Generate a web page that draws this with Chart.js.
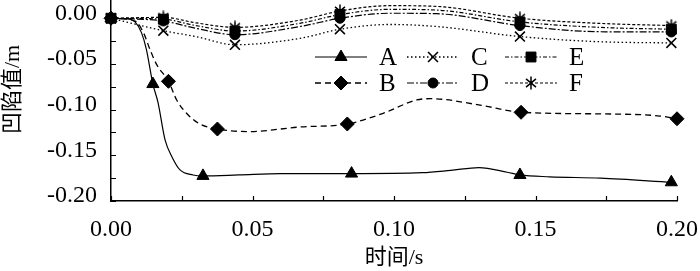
<!DOCTYPE html>
<html>
<head>
<meta charset="utf-8">
<script src="https://cdn.jsdelivr.net/npm/chart.js@4.4.0/dist/chart.umd.min.js"></script>
<style>
html, body { margin: 0; padding: 0; background: #fff; }
</style>
</head>
<body>
<canvas id="dentChart" width="700" height="271"></canvas>
<script>
// values (time in s, dent in m)
const timeA = [0, 0.006, 0.0085, 0.0108, 0.0125, 0.0148, 0.0166, 0.0191, 0.0216, 0.0244, 0.029, 0.0325, 0.045, 0.06, 0.085, 0.11, 0.12, 0.13, 0.14, 0.1445, 0.155, 0.173, 0.198];
const valueA = [0, -0.0005, -0.004, -0.016, -0.034, -0.072, -0.092, -0.133, -0.152, -0.166, -0.1715, -0.1725, -0.1715, -0.170, -0.170, -0.169, -0.1665, -0.1635, -0.1685, -0.1715, -0.1735, -0.175, -0.1795];
const markA = [0, 0.0148, 0.0325, 0.085, 0.1445, 0.198];

const timeB = [0, 0.0085, 0.0115, 0.014, 0.0162, 0.0203, 0.0232, 0.0267, 0.0314, 0.0376, 0.0485, 0.0668, 0.0835, 0.0962, 0.108, 0.113, 0.1304, 0.1449, 0.1774, 0.194, 0.2];
const valueB = [0, -0.003, -0.016, -0.036, -0.051, -0.069, -0.0894, -0.104, -0.1157, -0.1212, -0.124, -0.119, -0.1157, -0.104, -0.0894, -0.088, -0.095, -0.1029, -0.1048, -0.107, -0.110];
const markB = [0, 0.0203, 0.0376, 0.0835, 0.1449, 0.2];

const timeCF = [0, 0.0185, 0.03, 0.0438, 0.0668, 0.0809, 0.0986, 0.115, 0.1445, 0.172, 0.198];
const valueC = [0, -0.0136, -0.020, -0.029, -0.022, -0.012, -0.0068, -0.009, -0.020, -0.0256, -0.027];
const valueD = [0, -0.003, -0.011, -0.018, -0.009, 0.000, 0.0055, 0.005, -0.008, -0.0147, -0.015];
const valueE = [0, -0.001, -0.008, -0.014, -0.0055, 0.004, 0.0098, 0.009, -0.004, -0.0099, -0.012];
const valueF = [0, 0.001, -0.005, -0.010, -0.002, 0.008, 0.0138, 0.013, 0.000, -0.0055, -0.008];
const markCF = [0, 0.0185, 0.0438, 0.0809, 0.1445, 0.198];

const xTickMarks = [0, 0.025, 0.05, 0.075, 0.1, 0.125, 0.15, 0.175, 0.2];
const xTickLabels = [0, 0.05, 0.1, 0.15, 0.2];
const yTickMarks = [-0.2, -0.175, -0.15, -0.125, -0.1, -0.075, -0.05, -0.025, 0];
const yTickLabels = [-0.2, -0.15, -0.1, -0.05, 0];

const serif = "'Liberation Serif', 'Noto Sans CJK SC', serif";

function asterisk(size) {
    const c = document.createElement('canvas');
    c.width = size;
    c.height = size;
    const g = c.getContext('2d');
    g.strokeStyle = '#000';
    g.lineWidth = 1.5;
    const m = size / 2;
    const r = size / 2 - 0.5;
    g.beginPath();
    [90, 40, 140].forEach((deg) => {
        const a = deg * Math.PI / 180;
        g.moveTo(m - r * Math.cos(a), m + r * Math.sin(a));
        g.lineTo(m + r * Math.cos(a), m - r * Math.sin(a));
    });
    g.stroke();
    return c;
}
const starImg = asterisk(14);

function makeSet(label, times, values, marks, st) {
    return {
        label: label,
        data: times.map((t, i) => ({ x: t, y: values[i] })),
        borderColor: '#000',
        backgroundColor: '#000',
        borderWidth: st.width,
        borderDash: st.dash,
        pointStyle: st.point,
        pointBackgroundColor: '#000',
        pointBorderColor: '#000',
        pointBorderWidth: st.pointBorder,
        pointRadius: (ctx) => (marks.includes(times[ctx.dataIndex]) ? st.radius : 0),
        pointHoverRadius: 0,
        cubicInterpolationMode: 'monotone',
        clip: false,
        legendRadius: st.radius,
    };
}

const datasets = [
    makeSet('A', timeA, valueA, markA, { width: 1.2, dash: [], point: 'triangle', radius: 7, pointBorder: 1 }),
    makeSet('B', timeB, valueB, markB, { width: 1.3, dash: [6, 4], point: 'rectRot', radius: 7, pointBorder: 1 }),
    makeSet('C', timeCF, valueC, markCF, { width: 1.3, dash: [1.5, 2.5], point: 'crossRot', radius: 7, pointBorder: 1.6 }),
    makeSet('D', timeCF, valueD, markCF, { width: 1.2, dash: [7, 2, 2, 2], point: 'circle', radius: 5, pointBorder: 1 }),
    makeSet('E', timeCF, valueE, markCF, { width: 1.2, dash: [4, 2, 1.5, 2], point: 'rect', radius: 7, pointBorder: 1 }),
    makeSet('F', timeCF, valueF, markCF, { width: 1.2, dash: [3, 2], point: starImg, radius: 7, pointBorder: 1 }),
];

// legend: 3 columns x 2 rows, line sample with marker in the middle
const legendCols = [315, 407, 505];
const legendRows = [57, 83];

const legendPlugin = {
    id: 'sampleLegend',
    afterDraw(chart) {
        const ctx = chart.ctx;
        chart.data.datasets.forEach((ds, i) => {
            const x0 = legendCols[Math.floor(i / 2)];
            const y = legendRows[i % 2];
            ctx.save();
            ctx.strokeStyle = '#000';
            ctx.lineWidth = ds.borderWidth;
            ctx.setLineDash(ds.borderDash);
            ctx.beginPath();
            ctx.moveTo(x0, y);
            ctx.lineTo(x0 + 52, y);
            ctx.stroke();
            ctx.setLineDash([]);
            ctx.fillStyle = '#000';
            ctx.lineWidth = ds.pointBorderWidth;
            Chart.helpers.drawPoint(ctx, {
                pointStyle: ds.pointStyle,
                radius: ds.legendRadius,
                rotation: 0,
                borderWidth: ds.pointBorderWidth,
            }, x0 + 26, y);
            ctx.font = '25px ' + serif;
            ctx.textAlign = 'left';
            ctx.textBaseline = 'middle';
            ctx.fillText(ds.label, x0 + 64, y + 1);
            ctx.restore();
        });
    },
};

// inward tick marks on both axes
const tickPlugin = {
    id: 'innerTicks',
    afterDraw(chart) {
        const ctx = chart.ctx;
        const xs = chart.scales.x;
        const ys = chart.scales.y;
        ctx.save();
        ctx.strokeStyle = '#000';
        ctx.lineWidth = 1.2;
        ctx.beginPath();
        xTickMarks.forEach((v) => {
            const px = Math.round(xs.getPixelForValue(v)) + 0.5;
            ctx.moveTo(px, ys.bottom);
            ctx.lineTo(px, ys.bottom - 5);
        });
        yTickMarks.forEach((v) => {
            const py = Math.round(ys.getPixelForValue(v)) + 0.5;
            ctx.moveTo(xs.left, py);
            ctx.lineTo(xs.left + 5, py);
        });
        ctx.stroke();
        ctx.restore();
    },
};

new Chart(document.getElementById('dentChart'), {
    type: 'line',
    data: { datasets: datasets },
    plugins: [tickPlugin, legendPlugin],
    options: {
        responsive: false,
        animation: false,
        layout: { autoPadding: false, padding: { left: 0, right: 23, top: 0, bottom: 0 } },
        plugins: { legend: { display: false }, tooltip: { enabled: false } },
        scales: {
            x: {
                type: 'linear',
                min: 0,
                max: 0.2,
                grid: { display: false, drawTicks: false },
                border: { display: true, color: '#000', width: 1.5 },
                afterBuildTicks: (s) => { s.ticks = xTickLabels.map((v) => ({ value: v })); },
                afterFit: (s) => { s.height = 70; s.paddingLeft = 0; s.paddingRight = 0; },
                ticks: {
                    padding: 14,
                    color: '#000',
                    maxRotation: 0,
                    autoSkip: false,
                    font: { family: serif, size: 24 },
                    callback: (v) => Number(v).toFixed(2),
                },
                title: {
                    display: true,
                    text: '时间/s',
                    color: '#000',
                    font: { family: serif, size: 22, lineHeight: 1.2 },
                    padding: { top: 0, bottom: 0 },
                },
            },
            y: {
                type: 'linear',
                min: -0.2,
                max: 0.02,
                grid: { display: false, drawTicks: false },
                border: { display: true, color: '#000', width: 1.5 },
                afterBuildTicks: (s) => { s.ticks = yTickLabels.map((v) => ({ value: v })); },
                afterFit: (s) => { s.width = 111; s.paddingTop = 0; s.paddingBottom = 0; },
                ticks: {
                    padding: 14,
                    labelOffset: -5,
                    color: '#000',
                    font: { family: serif, size: 24 },
                    callback: (v) => (Math.abs(v) < 1e-9 ? '0.00' : Number(v).toFixed(2)),
                },
                title: {
                    display: true,
                    // leading spaces lift the rotated title a little, as in the figure
                    text: '    凹陷值/m',
                    color: '#000',
                    font: { family: serif, size: 22, lineHeight: 1.2 },
                    padding: { top: 0, bottom: 0 },
                },
            },
        },
    },
});
</script>
</body>
</html>
